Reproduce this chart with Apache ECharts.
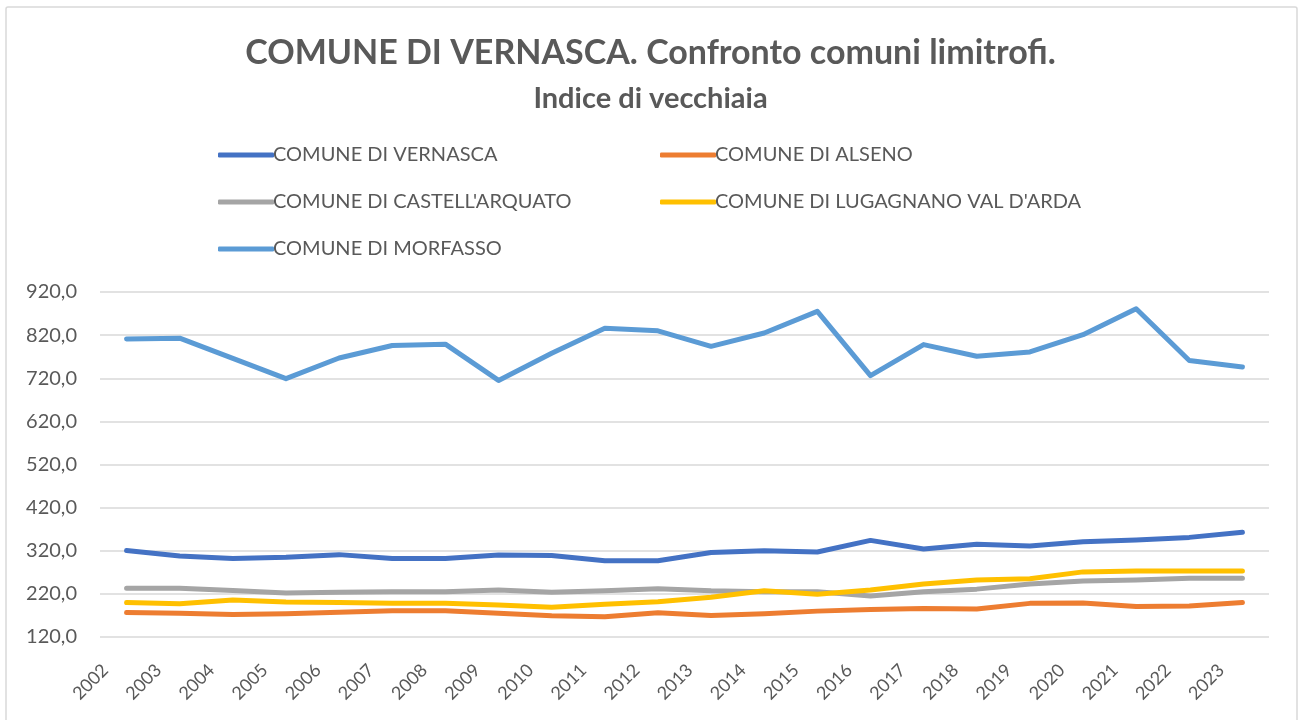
<!DOCTYPE html>
<html>
<head>
<meta charset="utf-8">
<script src="https://cdn.jsdelivr.net/npm/echarts@6/dist/echarts.min.js"></script>
<style>
  html, body { margin: 0; padding: 0; background: #ffffff; }
  #chart { width: 1301px; height: 720px; }
</style>
</head>
<body>
<div id="chart"></div>
<script>
// Anni della serie storica
const years = ['2002','2003','2004','2005','2006','2007','2008','2009','2010','2011','2012',
               '2013','2014','2015','2016','2017','2018','2019','2020','2021','2022','2023'];

// Indice di vecchiaia per comune
const vernasca = [320.5, 308, 302, 305, 311, 302, 302, 310, 309, 297, 297,
                  316, 320, 317, 344, 324, 335, 331, 341, 345, 351, 363];
const alseno = [177, 175, 172, 174, 177.5, 181, 181, 175, 169, 167, 176,
                170, 174, 180, 184, 186, 185, 198, 199, 191, 192, 200];
const castellArquato = [233, 233, 228, 222, 224, 225, 225, 229, 224, 227, 232,
                        227, 225, 225, 215, 225, 231, 243, 250, 252, 256, 256];
const lugagnano = [200, 197, 206, 201, 200, 198, 198, 194, 189, 196, 202,
                   212, 227, 219, 229, 243, 252, 255, 271, 273, 273, 273];
const morfasso = [811, 813, 766, 719, 767, 796, 799, 715, 778, 836, 830,
                  794, 825, 875, 726, 798, 771, 781, 821, 881, 761, 746];

// Estremi e passo dell'asse verticale
const yMin = 120, yMax = 920, yStep = 100;

const names = {
  vernasca: 'COMUNE DI VERNASCA',
  alseno: 'COMUNE DI ALSENO',
  castell: "COMUNE DI CASTELL'ARQUATO",
  lugagnano: "COMUNE DI LUGAGNANO VAL D'ARDA",
  morfasso: 'COMUNE DI MORFASSO'
};

const FONT = 'Lato, "Open Sans", sans-serif';
const TXT = '#595959';

function line(name, data, color) {
  return {
    name: name,
    type: 'line',
    data: data,
    symbol: 'none',
    smooth: false,
    lineStyle: { width: 5, color: color, cap: 'round', join: 'round' },
    itemStyle: { color: color }
  };
}

const legendCommon = {
  orient: 'vertical',
  icon: 'roundRect',
  itemWidth: 56,
  itemHeight: 5,
  itemGap: 27,
  textStyle: { color: TXT, fontSize: 20, fontFamily: FONT, padding: [0, 0, 0, -6] },
  selectedMode: false
};

const chart = echarts.init(document.getElementById('chart'), null, { renderer: 'canvas' });
chart.setOption({
  backgroundColor: '#ffffff',
  animation: false,
  title: [
    {
      text: 'COMUNE DI VERNASCA. Confronto comuni limitrofi.',
      left: 'center', top: 31,
      textStyle: { color: TXT, fontSize: 34, fontWeight: 'bold', fontFamily: FONT }
    },
    {
      text: 'Indice di vecchiaia',
      left: 'center', top: 79,
      textStyle: { color: TXT, fontSize: 29, fontWeight: 'bold', fontFamily: FONT }
    }
  ],
  graphic: [{
    type: 'rect',
    shape: { x: 6, y: 7, width: 1291, height: 720, r: 2 },
    style: { fill: 'none', stroke: '#d9d9d9', lineWidth: 1.5 },
    silent: true, z: -1
  }],
  legend: [
    Object.assign({}, legendCommon, {
      left: 213, top: 140,
      data: [names.vernasca, names.castell, names.morfasso]
    }),
    Object.assign({}, legendCommon, {
      left: 655, top: 140,
      data: [names.alseno, names.lugagnano]
    })
  ],
  grid: { left: 100, right: 32, top: 292, bottom: 83, containLabel: false },
  xAxis: {
    type: 'category',
    data: years,
    boundaryGap: true,
    axisLine: { show: false },
    axisTick: { show: false },
    axisLabel: {
      rotate: 45, color: TXT, fontSize: 18, fontFamily: FONT, margin: 9,
      padding: [0, 30, 0, 0]
    }
  },
  yAxis: {
    type: 'value',
    min: yMin, max: yMax, interval: yStep,
    axisLine: { show: false },
    axisTick: { show: false },
    splitLine: { lineStyle: { color: '#d9d9d9', width: 1.5 } },
    axisLabel: {
      color: TXT, fontSize: 20, fontFamily: FONT, margin: 23,
      formatter: v => v.toFixed(1).replace('.', ',')
    }
  },
  series: [
    line(names.vernasca, vernasca, '#4472C4'),
    line(names.alseno, alseno, '#ED7D31'),
    line(names.castell, castellArquato, '#A5A5A5'),
    line(names.lugagnano, lugagnano, '#FFC000'),
    line(names.morfasso, morfasso, '#5B9BD5')
  ]
});
</script>
</body>
</html>
